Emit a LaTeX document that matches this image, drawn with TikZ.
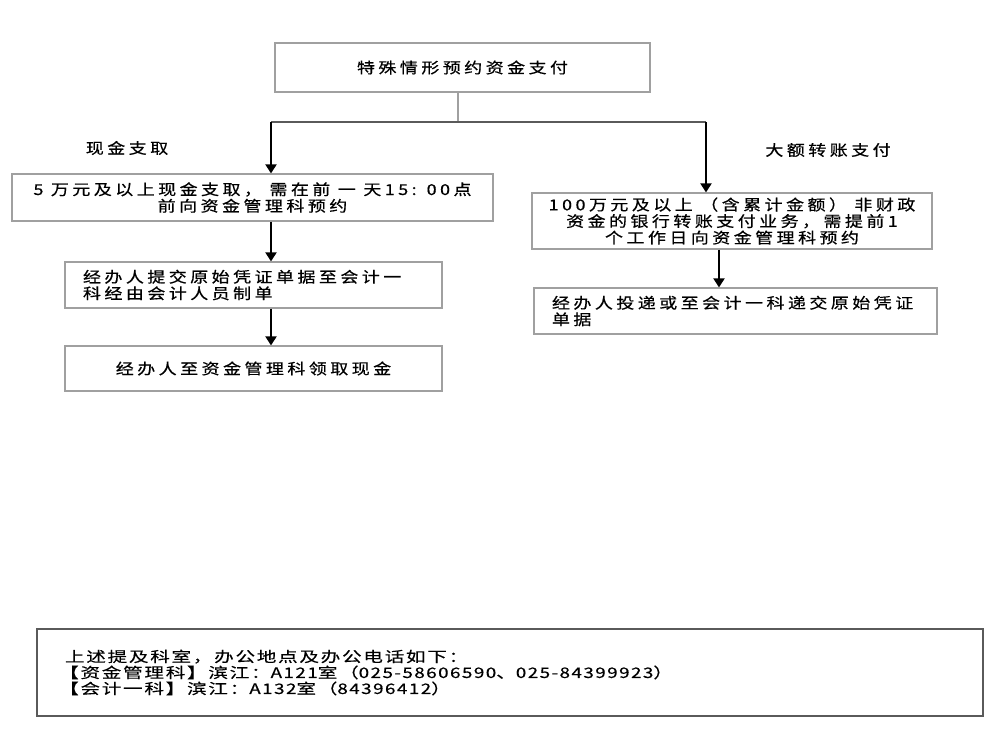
\documentclass[tikz,border=0pt]{standalone}
\usepackage{fontspec}
\newfontfamily\boxfont{Noto Sans CJK SC}[FakeStretch=1.2,LetterSpace=23,FakeBold=0.6]
\newfontfamily\notefont{Noto Sans CJK SC}[FakeStretch=1.35,LetterSpace=12,FakeBold=0.4]
\newfontfamily\notenum{Noto Sans CJK SC}[FakeStretch=1.3,LetterSpace=10,FakeBold=0.4]
\newcommand{\num}[1]{{\notenum #1}}
\usetikzlibrary{positioning,calc,arrows.meta}
\definecolor{boxgray}{RGB}{160,160,160}
\definecolor{linegray}{RGB}{90,90,90}
\tikzset{
	stepbox/.style={draw=boxgray, line width=1.2pt, inner sep=0pt, align=center,
		font=\boxfont\fontsize{15}{16.5}\selectfont},
	leftbox/.style={stepbox, align=left, inner xsep=18pt},
	flow/.style={-{Triangle[width=11pt,length=9pt]}, line width=2pt, black},
}

\begin{document}
\begin{tikzpicture}[x=1pt,y=-1pt]
	\useasboundingbox (0,0) rectangle (1002,729);
	\begin{scope}
		\node[stepbox, minimum width=375pt, minimum height=49pt] (pay) at (462.5,67.5) {特殊情形预约资金支付};

		% cash branch
		\node[stepbox, minimum width=481pt, minimum height=47pt] (cash1) at (252.5,197.5)
			{5 万元及以上现金支取， 需在前 一 天15: 00点\\前向资金管理科预约};
		\node[leftbox, text width=341pt, minimum height=46pt] (cash2) at (253.5,285)
			{经办人提交原始凭证单据至会计一\\科经由会计人员制单};
		\node[stepbox, minimum width=377pt, minimum height=45pt] (cash3) at (253.5,368.5)
			{经办人至资金管理科领取现金};

		% transfer branch
		\node[stepbox, minimum width=400pt, minimum height=56pt] (bank1) at (732,221)
			{100万元及以上 （含累计金额） 非财政\\资金的银行转账支付业务，需提前1\\个工作日向资金管理科预约};
		\node[leftbox, text width=367pt, minimum height=46pt] (bank2) at (735.5,311)
			{经办人投递或至会计一科递交原始凭证\\单据};

		\node[font=\boxfont\fontsize{15}{16.5}\selectfont] (cashlbl) at (127,148) {现金支取};
		\node[font=\boxfont\fontsize{15}{16.5}\selectfont] (banklbl) at (828,150) {大额转账支付};

		\coordinate (split) at (458,122);
		\coordinate (lsplit) at (271,122);
		\coordinate (rsplit) at (706,122);
		\coordinate (rdown) at (719,0);

		\draw[boxgray, line width=1.2pt] (pay.south -| split) -- (split);
		\draw[linegray, line width=1.2pt] (lsplit) -- (rsplit);
		\draw[flow] (lsplit) -- (lsplit |- cash1.north);
		\draw[flow] (cash1.south -| lsplit) -- (cash2.north -| lsplit);
		\draw[flow] (cash2.south -| lsplit) -- (cash3.north -| lsplit);
		\draw[flow] (rsplit) -- (rsplit |- bank1.north);
		\draw[flow] (bank1.south -| rdown) -- (bank2.north -| rdown);

		% contact note
		\node[draw=linegray, line width=1.2pt, inner xsep=28pt, inner ysep=0pt, text width=890pt,
			minimum height=87pt, align=left, font=\notefont\fontsize{14.5}{16}\selectfont] (note) at (510,672.5)
			{上述提及科室，办公地点及办公电话如下：\\\hspace{-0.4em}【资金管理科】滨江：\num{A121}室（\num{025-58606590}、\num{025-84399923}）\\\hspace{-0.4em}【会计一科】滨江：\num{A132}室（\num{84396412}）};
	\end{scope}
\end{tikzpicture}
\end{document}
